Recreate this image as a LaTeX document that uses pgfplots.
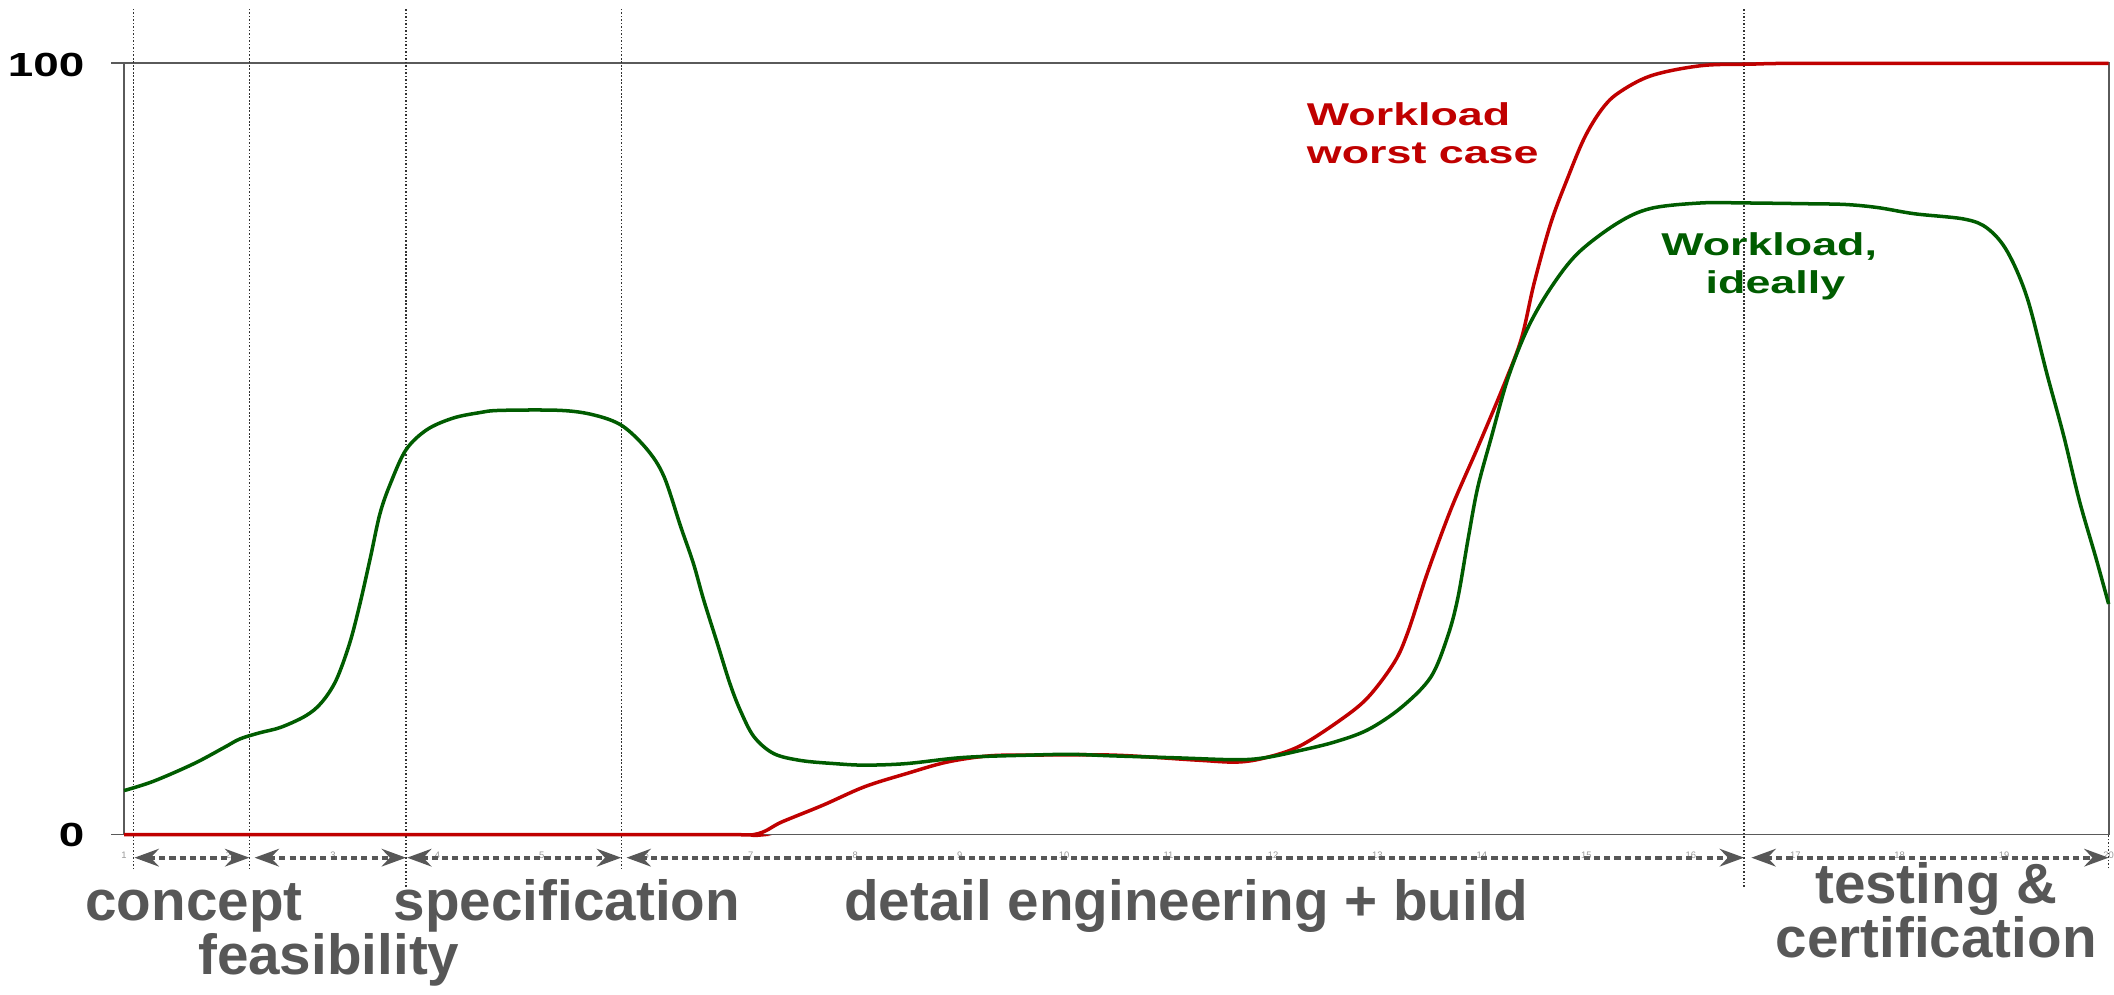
\documentclass[border=0pt]{standalone}
\usepackage{fontspec}
\setmainfont{Liberation Sans}
\usepackage{graphicx}
\usepackage{pgfplots}
\pgfplotsset{compat=1.18}
\usetikzlibrary{arrows.meta}
\definecolor{wred}{RGB}{192,0,0}
\definecolor{wgreen}{RGB}{0,92,0}
\definecolor{phase}{RGB}{87,87,87}
\definecolor{axgray}{RGB}{90,90,90}

\pgfplotstableread{
x y
1.00 0
6.50 0
7.03 0
7.30 1.65
7.69 3.8
8.09 6.2
8.49 7.9
8.88 9.4
9.28 10.2
9.68 10.3
10.47 10.3
11.27 9.65
11.66 9.4
11.94 10.0
12.26 11.5
12.65 14.9
12.91 17.8
13.16 22.3
13.29 26.2
13.48 34.0
13.71 42.4
13.96 50.2
14.22 58.6
14.38 64.4
14.50 71.5
14.66 79.3
14.82 85.1
14.98 90.3
15.14 93.9
15.30 96.1
15.62 98.4
16.10 99.7
16.58 99.9
17.00 100
18.50 100
20.00 100
}\worst

\pgfplotstableread{
x y
1.00 5.7
1.28 6.9
1.67 9.2
1.96 11.3
2.11 12.4
2.30 13.2
2.50 13.9
2.74 15.4
2.89 17.1
3.03 20.0
3.16 24.8
3.26 30.0
3.36 36.0
3.45 41.6
3.55 45.5
3.70 49.9
3.90 52.5
4.15 54.0
4.40 54.7
4.60 55.0
5.18 55.0
5.50 54.4
5.77 53.0
6.01 49.9
6.17 46.4
6.33 39.9
6.45 35.2
6.55 30.4
6.68 24.8
6.80 19.6
6.90 16.1
7.03 12.7
7.22 10.5
7.48 9.6
7.80 9.2
8.09 9.0
8.49 9.2
9.04 10.0
9.68 10.3
10.07 10.4
10.47 10.2
11.07 9.95
11.66 9.7
11.94 10.0
12.26 10.9
12.59 12.0
12.91 13.6
13.23 16.5
13.51 20.4
13.67 25.6
13.77 30.7
13.87 38.5
13.96 45.0
14.09 51.5
14.25 59.2
14.44 65.7
14.66 70.9
14.92 75.4
15.30 79.3
15.62 81.2
16.10 81.9
16.51 81.9
17.10 81.8
17.48 81.7
17.79 81.3
18.14 80.5
18.62 79.8
18.84 78.6
19.03 75.6
19.22 69.6
19.41 59.7
19.57 51.7
19.72 43.3
19.88 35.8
20.00 29.9
}\ideal

\begin{document}
\begin{tikzpicture}
\begin{axis}[
  at={(0pt,0pt)}, anchor=south west,
  width=736pt, height=286pt, scale only axis,
  xmin=1, xmax=20, ymin=0, ymax=100,
  clip=false,
  axis line style={draw=axgray, line width=0.7pt},
  xtick={1,...,20}, xtick pos=bottom, xtick style={draw=none},
  xticklabel style={font=\fontsize{3.5}{4}\selectfont, text=black!40, inner sep=0pt, yshift=-1.5pt},
  /pgf/number format/assume math mode=true,
  ytick={0,100}, yticklabels={,,}, ytick pos=left,
  tick align=outside, major tick length=4.8pt,
  ytick style={draw=axgray, line width=0.7pt},
]
% phase separators
\foreach \xx/\yb in {1.09/-4.5, 2.2/-4.5, 3.7/-6.8, 5.76/-4.5, 16.51/-6.8}{
  \edef\tmp{\noexpand\draw[black!80, line width=0.5pt, dash pattern=on 0.6pt off 0.7pt] (axis cs:\xx,\yb) -- (axis cs:\xx,107.1);}
  \tmp
}
\draw[black!80, line width=0.5pt, dash pattern=on 0.6pt off 0.7pt] (axis cs:20,-4.4) -- (axis cs:20,0);

\addplot[wred, line width=1.3pt, smooth, tension=0.55] table {\worst};
\addplot[wgreen, line width=1.3pt, smooth, tension=0.55] table {\ideal};

% phase arrows
\tikzset{phasearrow/.style={phase, line width=1.5pt, dash pattern=on 2.3pt off 1.5pt,
  {Stealth[length=9pt,width=6.5pt,inset=3pt]}-{Stealth[length=9pt,width=6.5pt,inset=3pt]}}}
\draw[phasearrow] (axis cs:1.10,-3) -- (axis cs:2.20,-3);
\draw[phasearrow] (axis cs:2.25,-3) -- (axis cs:3.70,-3);
\draw[phasearrow] (axis cs:3.71,-3) -- (axis cs:5.76,-3);
\draw[phasearrow] (axis cs:5.81,-3) -- (axis cs:16.51,-3);
\draw[phasearrow] (axis cs:16.58,-3) -- (axis cs:20,-3);

% y tick labels
\node[anchor=east, inner sep=0pt, xshift=-14.5pt, yshift=-0.7pt, font=\bfseries\fontsize{12.4}{13}\selectfont] at (axis cs:1,100) {\scalebox{1.37}[1]{100}};
\node[anchor=east, inner sep=0pt, xshift=-14.5pt, font=\bfseries\fontsize{12.4}{13}\selectfont] at (axis cs:1,0) {\scalebox{1.37}[1]{0}};

% series labels
\node[anchor=base west, inner sep=0pt, text=wred, font=\bfseries\fontsize{11.7}{13}\selectfont] at (axis cs:12.32,92.0) {\scalebox{1.42}[1]{Workload}};
\node[anchor=base west, inner sep=0pt, text=wred, font=\bfseries\fontsize{11.7}{13}\selectfont] at (axis cs:12.32,87.0) {\scalebox{1.42}[1]{worst case}};
\node[anchor=base, inner sep=0pt, text=wgreen, font=\bfseries\fontsize{11.7}{13}\selectfont] at (axis cs:16.75,75.06) {\scalebox{1.42}[1]{Workload,}};
\node[anchor=base, inner sep=0pt, text=wgreen, font=\bfseries\fontsize{11.7}{13}\selectfont] at (axis cs:16.81,70.2) {\scalebox{1.42}[1]{ideally}};

% phase labels
\tikzset{phaselbl/.style={anchor=base, inner sep=0pt, text=phase, font=\bfseries\fontsize{21}{21}\selectfont}}
\node[phaselbl] at (axis cs:1.67,-11.1) {concept};
\node[phaselbl] at (axis cs:2.96,-18.2) {feasibility};
\node[phaselbl] at (axis cs:5.24,-11.1) {specification};
\node[phaselbl] at (axis cs:11.17,-11.1) {detail engineering + build};
\node[phaselbl] at (axis cs:18.35,-8.9) {testing \&};
\node[phaselbl] at (axis cs:18.35,-15.9) {certification};
\end{axis}
\pgfresetboundingbox
\path[use as bounding box] (-46pt,-59.5pt) rectangle (738pt,309.5pt);
\end{tikzpicture}
\end{document}
